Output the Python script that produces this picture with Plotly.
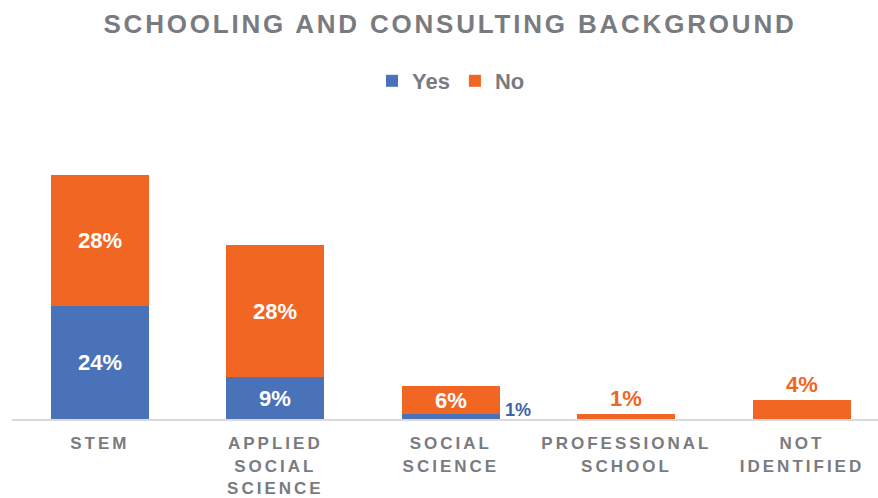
import plotly.graph_objects as go

# Share of respondents by field of schooling, split by prior consulting experience
categories = ["STEM", "APPLIED<br>SOCIAL<br>SCIENCE", "SOCIAL<br>SCIENCE",
              "PROFESSIONAL<br>SCHOOL", "NOT<br>IDENTIFIED"]
yes_pct = [24, 9, 1, 0, 0]
no_pct = [28, 28, 6, 1, 4]
series_names = ["Yes", "No"]

BLUE = "#4A72B8"
ORANGE = "#F26624"
GRAY = "#7A7B7F"
AXIS_GRAY = "#D9D9D9"
FONT = "Liberation Sans, Arial, sans-serif"
BAR_WIDTH = 0.558

W, H = 878, 498
x = list(range(len(categories)))

# segments too thin for an inside label get their label placed elsewhere
yes_text = [f"{v}%" if v >= 5 else "" for v in yes_pct]
no_text = [f"{v}%" for v in no_pct]
no_pos = ["inside" if v >= 5 else "outside" for v in no_pct]

fig = go.Figure()
fig.add_bar(
    name=series_names[0], x=x, y=yes_pct, width=BAR_WIDTH,
    marker=dict(color=BLUE, line=dict(width=0)),
    text=yes_text, textposition="inside", insidetextanchor="middle",
    constraintext="none", textangle=0,
    insidetextfont=dict(family=FONT, size=22, color="white", weight="bold"),
    hoverinfo="skip",
)
fig.add_bar(
    name=series_names[1], x=x, y=no_pct, width=BAR_WIDTH,
    marker=dict(color=ORANGE, line=dict(width=0)),
    text=no_text, textposition=no_pos, insidetextanchor="middle",
    constraintext="none", textangle=0, cliponaxis=False,
    insidetextfont=dict(family=FONT, size=22, color="white", weight="bold"),
    outsidetextfont=dict(family=FONT, size=22, color=ORANGE, weight="bold"),
    hoverinfo="skip",
)

# small "Yes" share beside the Social Science bar
fig.add_annotation(
    x=2 + BAR_WIDTH / 2, y=yes_pct[2], xref="x", yref="y",
    text=f"{yes_pct[2]}%", showarrow=False,
    xanchor="left", yanchor="middle", xshift=3, yshift=4,
    font=dict(family=FONT, size=18, color="#3E64A8", weight="bold"),
)

fig.update_layout(
    width=W, height=H,
    barmode="stack",
    bargap=0,
    paper_bgcolor="white", plot_bgcolor="white",
    margin=dict(l=12, r=0, t=110, b=79, pad=0),
    title=dict(
        text="SCHOOLING AND CONSULTING BACKGROUND",
        xref="container", yref="container",
        x=450 / W, y=1 - 24 / H, xanchor="center", yanchor="middle",
        font=dict(family=FONT, size=26, color=GRAY, weight="bold"),
    ),
    legend=dict(
        orientation="h",
        xref="container", yref="container",
        x=451 / W, y=1 - 81 / H, xanchor="center", yanchor="middle",
        font=dict(family=FONT, size=22, color=GRAY, weight="bold"),
        itemwidth=30, traceorder="normal",
    ),
    xaxis=dict(
        tickmode="array", tickvals=x, ticktext=categories,
        range=[-0.5, 4.433],
        showline=True, linecolor=AXIS_GRAY, linewidth=2,
        ticks="", showgrid=False, zeroline=False,
        ticklabelstandoff=8,
        tickfont=dict(family=FONT, size=17, color=GRAY, weight="bold"),
    ),
    yaxis=dict(visible=False, range=[0, 65.77], fixedrange=True),
    showlegend=True,
)

# widen the tracking of the title and category labels
post = """
var gd = document.getElementById('{plot_id}');
function spaceText(){
  gd.querySelectorAll('.gtitle').forEach(function(t){ t.style.letterSpacing = '2.8px'; });
  gd.querySelectorAll('.xtick text').forEach(function(t){ t.style.letterSpacing = '3px'; });
}
spaceText();
gd.on('plotly_afterplot', spaceText);
"""

fig.write_html("out.html", config={"displayModeBar": False}, post_script=post)
